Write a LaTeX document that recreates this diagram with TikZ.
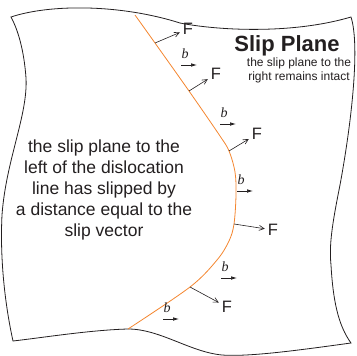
\documentclass[tikz,border=0pt]{standalone}
\usepackage{fontspec}
\setmainfont{Liberation Sans}
\newfontfamily\spserif{Liberation Serif}
\usepackage{xcolor}
\definecolor{spink}{HTML}{231F20}
\definecolor{sporange}{HTML}{F4862F}
\usepackage{tikz}
\usetikzlibrary{arrows.meta}
\tikzset{
  spsheet/.style ={draw=spink, line width=0.8pt},
  spdisl/.style  ={draw=sporange, line width=0.8pt},
  spforce/.style ={-{Straight Barb[length=5pt,width=5pt]}, line width=0.6pt, draw=spink},
  spslip/.style  ={-{Latex[length=6pt,width=3.6pt]}, line width=0.7pt, draw=spink},
  spF/.style     ={font=\fontsize{16.5}{18}\selectfont, text=spink, inner sep=3pt},
  spb/.style     ={font=\fontsize{14}{16}\selectfont\spserif\itshape, text=spink, inner sep=0pt},
  spnote/.style  ={align=center, text=spink, inner sep=0pt},
}

\begin{document}
\begin{tikzpicture}[x=1pt, y=-1pt]
  \useasboundingbox (0,0) rectangle (357,356);
  % the crystal sheet
  \draw[spsheet] (11,17) .. controls (50,4) and (120,4) .. (180,23)
       .. controls (215,30) and (290,35) .. (351,17)
       .. controls (360,45) and (352,120) .. (340,185)
       .. controls (332,225) and (329,245) .. (331,265)
       .. controls (333,300) and (338,325) .. (351,343)
       .. controls (300,350) and (250,357) .. (222,355)
       .. controls (190,352) and (160,329) .. (128,329)
       .. controls (90,330) and (40,338) .. (13,341)
       .. controls (4,300) and (0,255) .. (2,215)
       .. controls (6,160) and (28,115) .. (26,78)
       .. controls (24,50) and (18,30) .. (11,17) -- cycle;
  % dislocation line
  \coordinate (f1) at (155,43);
  \coordinate (f2) at (189,91);
  \coordinate (f3) at (229,151);
  \coordinate (f4) at (234,224);
  \coordinate (f5) at (190,287);
  \draw[spdisl] plot[smooth, tension=0.55] coordinates
       {(135,15) (f1) (f2) (220,136) (f3) (235,172) (236,195) (f4)
        (229,241) (217,260) (f5) (128,329)};
  % forces on the line
  \foreach \i/\fx/\fy in {1/188/29, 2/216/74, 3/257/134, 4/273/230, 5/227/307}{
    \node[spF] (F\i) at (\fx,\fy) {F};
    \draw[spforce] (f\i) -- (F\i);
  }
  % Burgers vectors
  \foreach \i/\bx/\by in {1/185/54, 2/224/113, 3/241/180, 4/225/267, 5/167/308}{
    \node[spb] (b\i) at (\bx,\by) {b};
    \draw[spslip] ([shift={(-4pt,-11pt)}]b\i.center) -- ++(16,0);
  }
  \node[spnote, font=\fontsize{22}{24}\selectfont\bfseries] (title) at (287,46) {Slip Plane};
  \node[spnote, font=\fontsize{12}{14}\selectfont] (right) at (299,70)
       {the slip plane to the\\right remains intact};
  \node[spnote, font=\fontsize{17.5}{21}\selectfont] (left) at (104,189.5)
       {the slip plane to the\\left of the dislocation\\line has slipped by\\a distance equal to the\\slip vector};
\end{tikzpicture}
\end{document}
